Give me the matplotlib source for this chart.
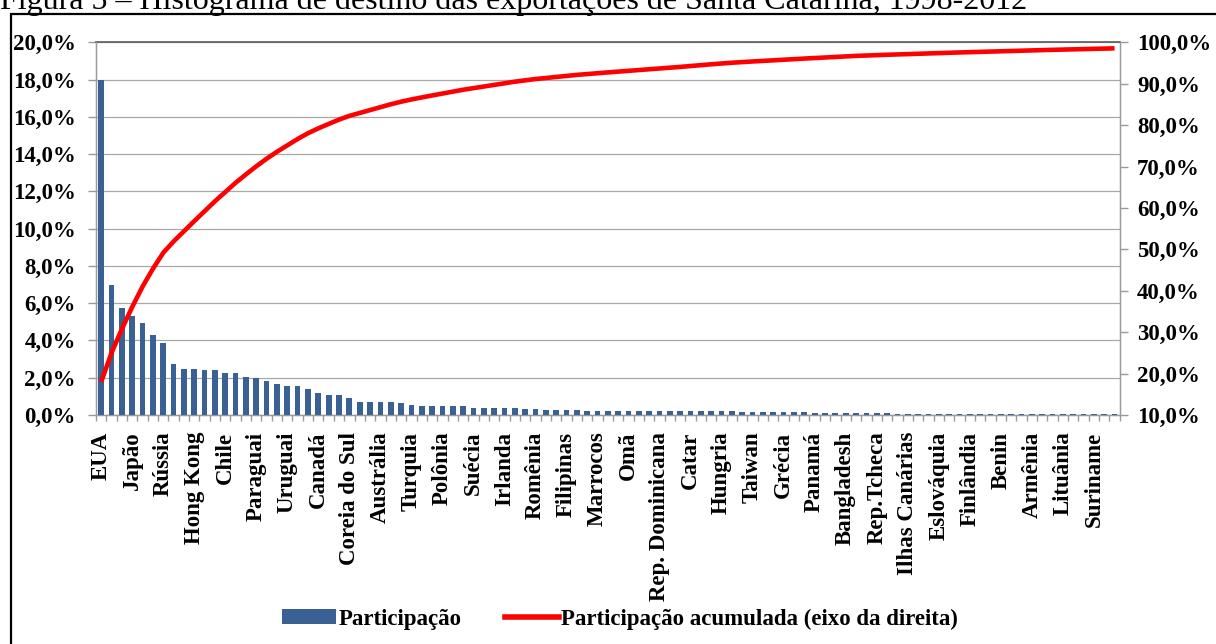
import numpy as np
import matplotlib
matplotlib.use('Agg')
import matplotlib.pyplot as plt
from matplotlib.patches import Rectangle, Patch
from matplotlib.lines import Line2D
from matplotlib.ticker import FuncFormatter

plt.rcParams['font.family'] = ['Liberation Serif', 'DejaVu Serif']

titulo = 'Figura 5 – Histograma de destino das exportações de Santa Catarina, 1998-2012'

# participacao (%) de cada destino, ordem decrescente (99 destinos)
participacao = [
    18.00, 7.00, 5.75, 5.33, 4.92, 4.29, 3.88, 2.73, 2.46, 2.46,
    2.39, 2.39, 2.24, 2.24, 2.02, 1.96, 1.82, 1.69, 1.54, 1.54,
    1.39, 1.19, 1.05, 1.05, 0.90, 0.70, 0.70, 0.70, 0.70, 0.62,
    0.55, 0.48, 0.48, 0.46, 0.46, 0.46, 0.39, 0.39, 0.39, 0.39,
    0.39, 0.32, 0.32, 0.25, 0.25, 0.25, 0.25, 0.20, 0.20, 0.20,
    0.19, 0.19, 0.19, 0.19, 0.19, 0.19, 0.19, 0.21, 0.21, 0.21,
    0.19, 0.19, 0.15, 0.15, 0.14, 0.14, 0.14, 0.14, 0.14, 0.13,
    0.13, 0.13, 0.13, 0.13, 0.09, 0.09, 0.09, 0.08, 0.08, 0.08,
    0.08, 0.08, 0.08, 0.08, 0.07, 0.07, 0.07, 0.07, 0.07, 0.07,
    0.07, 0.07, 0.07, 0.06, 0.06, 0.06, 0.06, 0.06, 0.06,
]

# no original so aparece o nome de um destino a cada tres barras
rotulos = ['EUA', 'Japão', 'Rússia', 'Hong Kong', 'Chile', 'Paraguai', 'Uruguai',
           'Canadá', 'Coreia do Sul', 'Austrália', 'Turquia', 'Polônia', 'Suécia',
           'Irlanda', 'Romênia', 'Filipinas', 'Marrocos', 'Omã', 'Rep. Dominicana',
           'Catar', 'Hungria', 'Taiwan', 'Grécia', 'Panamá', 'Bangladesh',
           'Rep.Tcheca', 'Ilhas Canárias', 'Eslováquia', 'Finlândia', 'Benin',
           'Armênia', 'Lituânia', 'Suriname']
passo_rotulo = 3

ticks_esq = [0, 2, 4, 6, 8, 10, 12, 14, 16, 18, 20]
ticks_dir = [10, 20, 30, 40, 50, 60, 70, 80, 90, 100]

nome_barra = 'Participação'
nome_linha = 'Participação acumulada (eixo da direita)'

azul = '#3A6193'
cinza = '#9A9A9A'
fs = 16.5

W, H = 1216, 644
fig = plt.figure(figsize=(W / 100, H / 100), dpi=100)

# moldura preta em volta do grafico
fig.patches.append(Rectangle((11 / W, -0.05), 1.2, 1 - 14 / H + 0.05,
                             transform=fig.transFigure, fill=False,
                             edgecolor='black', linewidth=1.6, clip_on=False))
fig.text(0.0, 1 - 9.3 / H, titulo, fontsize=23, ha='left', va='baseline')

ax = fig.add_axes([96 / W, 1 - 415 / H, 1023.7 / W, (415 - 42.3) / H])
x = np.arange(len(participacao))
ax.bar(x, participacao, width=0.55, color=azul, zorder=3)
ax.set_xlim(-0.5, len(participacao) - 0.5)
ax.set_ylim(0, 20)
ax.set_yticks(ticks_esq)
ax.yaxis.grid(True, color='#A8A8A8', linewidth=0.9, zorder=0)
ax.set_axisbelow(True)

fmt = FuncFormatter(lambda v, p: f'{v:.1f}%'.replace('.', ','))
ax.yaxis.set_major_formatter(fmt)

ax.set_xticks(x[::passo_rotulo])
ax.set_xticklabels(rotulos, rotation=90, fontsize=fs, fontweight='bold')
ax.set_xticks(np.arange(len(participacao) + 1) - 0.5, minor=True)
ax.tick_params(axis='x', which='major', length=0, pad=12)
ax.tick_params(axis='x', which='minor', length=4.5, color=cinza, width=1)
ax.tick_params(axis='y', length=5.5, color=cinza, width=1, pad=9,
               labelsize=fs)
for t in ax.get_yticklabels():
    t.set_fontweight('bold')

for lado in ['left', 'bottom', 'right']:
    ax.spines[lado].set_color(cinza)
    ax.spines[lado].set_linewidth(1)
ax.spines['top'].set_color('#5A5A5A')
ax.spines['top'].set_linewidth(1.2)

ax2 = ax.twinx()
acumulada = np.cumsum(participacao)
ax2.plot(x, acumulada, color='#FF0000', linewidth=3.3, zorder=5,
         solid_capstyle='butt')
ax2.set_ylim(10, 100)
ax2.set_yticks(ticks_dir)
ax2.yaxis.set_major_formatter(fmt)
ax2.tick_params(axis='y', length=5.5, color=cinza, width=1, pad=7,
                labelsize=fs)
for t in ax2.get_yticklabels():
    t.set_fontweight('bold')
for lado in ['left', 'bottom', 'right']:
    ax2.spines[lado].set_color(cinza)
ax2.spines['top'].set_visible(False)

handles = [Patch(facecolor=azul, edgecolor='none'),
           Line2D([], [], color='#FF0000', linewidth=4)]
fig.legend(handles, [nome_barra, nome_linha], loc='center',
           bbox_to_anchor=(620 / W, 1 - 619 / H), ncol=2, frameon=False,
           prop=dict(weight='bold', size=fs), handlelength=2.35,
           handleheight=0.57, handletextpad=0.1, columnspacing=1.9)

fig.savefig('out.png', dpi=100)
